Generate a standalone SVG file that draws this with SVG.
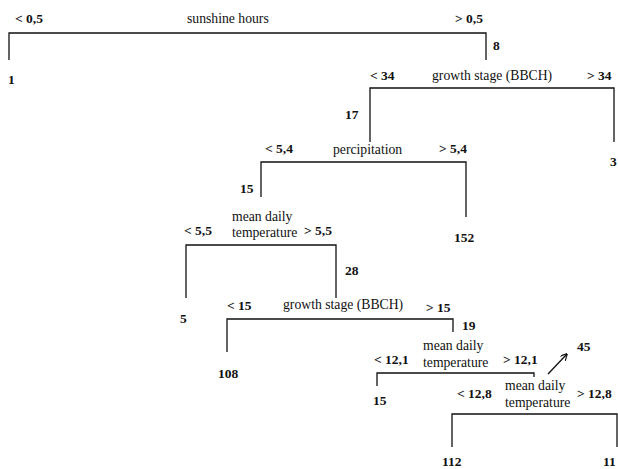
<svg xmlns="http://www.w3.org/2000/svg" width="618" height="469" viewBox="0 0 618 469">
<style>
.v{font-family:"Liberation Serif","Times New Roman",serif;font-size:13.7px;fill:#111}
.n{font-family:"Liberation Serif","Times New Roman",serif;font-size:13.5px;font-weight:bold;fill:#111}
.c{fill:none;stroke:#111;stroke-width:1.3}
</style>
<defs>
<marker id="ah" viewBox="0 0 10 10" refX="9" refY="5" markerWidth="7" markerHeight="7" orient="auto" markerUnits="userSpaceOnUse">
<path d="M0,0 L10,5 L0,10" fill="none" stroke="#111" stroke-width="1.6"/>
</marker>
</defs>
<rect width="618" height="469" fill="#fff"/>
<g id="connectors">
<path class="c" d="M9,60 V33 H486 V60"/>
<path class="c" d="M370,142 V88 H614 V142"/>
<path class="c" d="M261,197 V162 H466 V217"/>
<path class="c" d="M186,298 V245 H336 V298"/>
<path class="c" d="M227,352 V319 H453 V332"/>
<path class="c" d="M377,386 V373 H534 V377"/>
<path class="c" d="M452,447 V414 H617 V447"/>
<path class="c" d="M548,374 L567,354" marker-end="url(#ah)"/>
</g>
<g id="split-sunshine">
<text class="n" x="15" y="23">&lt; 0,5</text>
<text class="v" x="187" y="23">sunshine hours</text>
<text class="n" x="455" y="23">&gt; 0,5</text>
</g>
<g id="leaf-1"><text class="n" x="8" y="84">1</text></g>
<g id="node-8"><text class="n" x="493" y="50">8</text></g>
<g id="split-bbch-34">
<text class="n" x="370" y="80">&lt; 34</text>
<text class="v" x="432" y="80">growth stage (BBCH)</text>
<text class="n" x="587" y="80">&gt; 34</text>
</g>
<g id="node-17"><text class="n" x="345" y="119">17</text></g>
<g id="leaf-3"><text class="n" x="610" y="166">3</text></g>
<g id="split-percipitation">
<text class="n" x="265" y="153">&lt; 5,4</text>
<text class="v" x="333" y="154">percipitation</text>
<text class="n" x="439" y="153">&gt; 5,4</text>
</g>
<g id="node-15a"><text class="n" x="240" y="193">15</text></g>
<g id="leaf-152"><text class="n" x="454" y="242">152</text></g>
<g id="split-temp-5-5">
<text class="v" x="232" y="221">mean daily</text>
<text class="v" x="232" y="237">temperature</text>
<text class="n" x="184" y="235">&lt; 5,5</text>
<text class="n" x="304" y="235">&gt; 5,5</text>
</g>
<g id="leaf-5"><text class="n" x="180" y="323">5</text></g>
<g id="node-28"><text class="n" x="345" y="275">28</text></g>
<g id="split-bbch-15">
<text class="n" x="227" y="310">&lt; 15</text>
<text class="v" x="283" y="309">growth stage (BBCH)</text>
<text class="n" x="426" y="312">&gt; 15</text>
</g>
<g id="leaf-108"><text class="n" x="218" y="378">108</text></g>
<g id="node-19"><text class="n" x="462" y="330">19</text></g>
<g id="split-temp-12-1">
<text class="v" x="423" y="350">mean daily</text>
<text class="v" x="423" y="367">temperature</text>
<text class="n" x="374" y="364">&lt; 12,1</text>
<text class="n" x="503" y="364">&gt; 12,1</text>
</g>
<g id="leaf-15b"><text class="n" x="373" y="405">15</text></g>
<g id="node-45"><text class="n" x="577" y="351">45</text></g>
<g id="split-temp-12-8">
<text class="n" x="457" y="398">&lt; 12,8</text>
<text class="v" x="505" y="390">mean daily</text>
<text class="v" x="505" y="407">temperature</text>
<text class="n" x="577" y="398">&gt; 12,8</text>
</g>
<g id="leaf-112"><text class="n" x="442" y="466">112</text></g>
<g id="leaf-11"><text class="n" x="603" y="466">11</text></g>
</svg>
